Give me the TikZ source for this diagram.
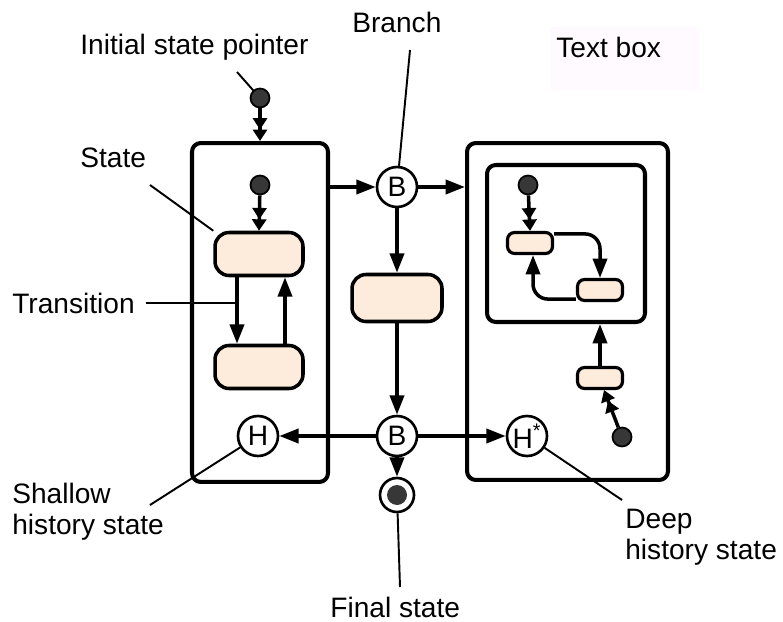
\documentclass[tikz,border=0pt]{standalone}
\usepackage{fontspec}
\setmainfont{Liberation Sans}
\usetikzlibrary{arrows.meta, positioning}

\definecolor{peach}{RGB}{253,235,220}
\definecolor{dotgray}{RGB}{55,55,55}
\definecolor{boxpink}{RGB}{255,250,255}

\begin{document}
\begin{tikzpicture}[
    x=0.02cm, y=-0.02cm,
    >={Triangle[length=11pt, width=8pt]},
    init/.style={-{Triangle[length=6.5pt, width=8pt] Triangle[length=6.5pt, width=8pt]}, line width=2pt},
    trans/.style={->, line width=2pt},
    lead/.style={line width=1.1pt},
    lbl/.style={font=\fontsize{16}{17.6}\selectfont, inner sep=0pt},
    composite/.style={draw, line width=2.3pt, rounded corners=5pt},
    substate/.style={draw, fill=peach, line width=2pt, rounded corners=8pt,
        minimum width=1.76cm, minimum height=0.86cm},
    smallstate/.style={draw, fill=peach, line width=1.8pt, rounded corners=4pt,
        minimum width=0.9cm, minimum height=0.42cm},
    pseudo/.style={circle, draw, line width=1.5pt, fill=white, minimum size=0.8cm,
        inner sep=0pt, font=\fontsize{16}{17.6}\selectfont},
    dot/.style={circle, draw, line width=1pt, fill=dotgray, minimum size=0.38cm, inner sep=0pt}
]
\useasboundingbox (0,0) rectangle (783,621);

% Nodes ------------------------------------------------------

\node[composite, minimum width=2.72cm, minimum height=6.78cm] (left) at (260,312.5) {};
\node[composite, minimum width=4.02cm, minimum height=6.74cm] (right) at (567.5,311.5) {};
\node[composite, minimum width=3.16cm, minimum height=3.14cm] (inner) at (566,243.5) {};

\node[dot] (ini0) at (260,98) {};
\node[dot] (ini1) at (260,185) {};
\node[substate] (s1) at (259,254) {};
\node[substate] (s2) at (259,367) {};
\node[pseudo] (h) at (258,436) {H};

\node[pseudo] (b1) at (397,187) {B};
\node[substate, minimum width=1.8cm, minimum height=0.94cm] (mid) at (397,298) {};
\node[pseudo] (b2) at (397,436) {B};
\node[circle, draw, line width=1.5pt, minimum size=0.68cm, inner sep=0pt] (fin) at (397,495) {};
\node[circle, fill=dotgray, minimum size=0.4cm, inner sep=0pt] at (fin) {};

\node[dot] (ini2) at (528,185) {};
\node[smallstate] (a) at (530,243) {};
\node[smallstate] (b) at (600,290) {};
\node[smallstate] (c) at (600,378) {};
\node[dot] (ini3) at (622,437) {};
\node[pseudo] (hs) at (527,436) {H\textsuperscript{*}};

% Labels ---------------------------------------------------

\fill[boxpink] (550,27) rectangle (700,90);
\node[lbl, anchor=base west] (ltext) at (556,58) {Text box};
\node[lbl, anchor=base west] (linit) at (80,55) {Initial state pointer};
\node[lbl, anchor=base west] (lbranch) at (352,33) {Branch};
\node[lbl, anchor=base west] (lstate) at (80,168) {State};
\node[lbl, anchor=base west] (ltrans) at (12,313) {Transition};
\node[lbl, anchor=west, align=left] (lshallow) at (12,512) {Shallow\\history state};
\node[lbl, anchor=west, align=left] (ldeep) at (625,537) {Deep\\history state};
\node[lbl, anchor=base west] (lfinal) at (330,617) {Final state};

\coordinate (p0) at (237,72);
\coordinate (p1) at (410,50);
\coordinate (p2) at (150,185);
\coordinate (p3) at (146,303);
\coordinate (p3e) at (237,303);
\coordinate (p4) at (150,505);
\coordinate (p5) at (622,500);
\coordinate (p6) at (400,587);

% Arrows ---------------------------------------------------

\draw [init] (ini0) -- (left.north);
\draw [init] (ini1) -- (s1.north);
\draw [trans] ([xshift=-0.44cm]s1.south) -- ([xshift=-0.44cm]s2.north);
\draw [trans] ([xshift=0.52cm]s2.north) -- ([xshift=0.52cm]s1.south);

\draw [trans] (left.east |- b1) -- (b1);
\draw [trans] (b1) -- (right.west |- b1);
\draw [trans] (b1) -- (mid.north);
\draw [trans] (mid.south) -- (b2);
\draw [trans] (b2) -- (h);
\draw [trans] (b2) -- (hs);
\draw [trans] (b2) -- (fin);

\draw [init] (ini2) -- (a.north);
\draw [trans, rounded corners=0.3cm] ([yshift=-0.06cm]a.north east) -| (b.north);
\draw [trans, rounded corners=0.3cm] ([yshift=0.06cm]b.south west) -| ([xshift=0.06cm]a.south);
\draw [trans] (c.north) -- (c.north |- inner.south);
\draw [init] (ini3) -- ([xshift=0.08cm]c.south);

% Leaders ---------------------------------------------------

\draw [lead] (p0) -- (ini0);
\draw [lead] (p1) -- (b1);
\draw [lead] (p2) -- (s1.north west);
\draw [lead] (p3) -- (p3e);
\draw [lead] (p4) -- (h);
\draw [lead] (p5) -- (hs);
\draw [lead] (p6) -- (fin);

\end{tikzpicture}
\end{document}
